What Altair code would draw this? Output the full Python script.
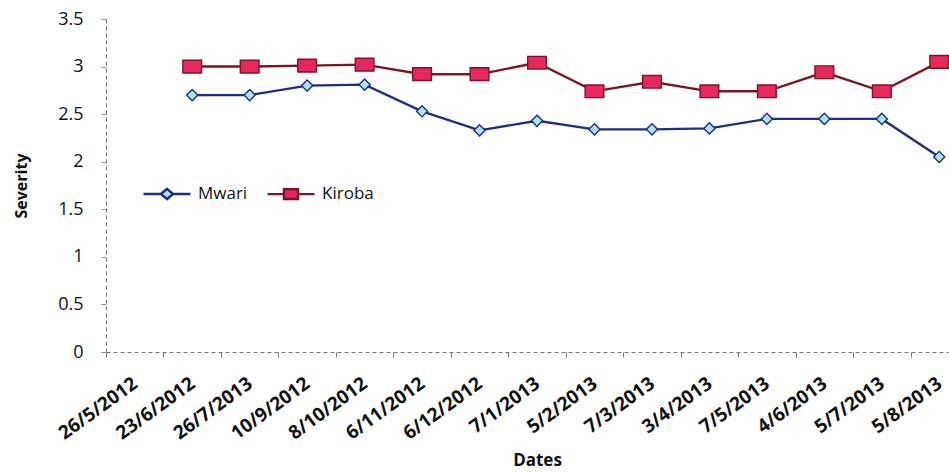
import altair as alt
import pandas as pd

# Survey dates (category order as recorded) and mean severity scores per site
dates = ["26/5/2012", "23/6/2012", "26/7/2013", "10/9/2012", "8/10/2012",
         "6/11/2012", "6/12/2012", "7/1/2013", "5/2/2013", "7/3/2013",
         "3/4/2013", "7/5/2013", "4/6/2013", "5/7/2013", "5/8/2013"]
mwari = [None, 2.70, 2.70, 2.80, 2.81, 2.53, 2.33, 2.43, 2.34, 2.34,
         2.35, 2.45, 2.45, 2.45, 2.05]
kiroba = [None, 3.00, 3.00, 3.01, 3.02, 2.92, 2.92, 3.04, 2.74, 2.84,
          2.74, 2.74, 2.94, 2.74, 3.05]

series_names = ["Mwari", "Kiroba"]
line_colors = ["#1f2d86", "#7d1428"]
marker_fills = ["#a8e4f2", "#e8285c"]
y_ticks = [0, 0.5, 1, 1.5, 2, 2.5, 3, 3.5]

# marker outlines (unit box -1..1)
rect_marker = "M-1,-0.68L1,-0.68L1,0.68L-1,0.68Z"
# legend glyphs: a short line with the series marker in its middle
legend_glyphs = [
    "M-1,0L-0.26,0M0.26,0L1,0M0,-0.22L0.26,0L0,0.22L-0.26,0Z",
    "M-1,0L-0.3,0M0.3,0L1,0M-0.3,-0.21L0.3,-0.21L0.3,0.21L-0.3,0.21Z",
]

FONT = "Open Sans"

rows = []
for name, vals in zip(series_names, [mwari, kiroba]):
    for d, v in zip(dates, vals):
        if v is not None:
            rows.append({"Date": d, "Severity": v, "Series": name})
df = pd.DataFrame(rows)

legend = alt.Legend(
    title=None,
    orient="none",
    direction="horizontal",
    legendX=36,
    legendY=150,
    symbolSize=2209,
    symbolStrokeWidth=2.4,
    symbolOpacity=1,
    labelFont=FONT,
    labelFontSize=17,
    labelColor="#111111",
    labelOffset=6,
    columnPadding=14,
)

x_enc = alt.X(
    "Date:N",
    sort=dates,
    scale=alt.Scale(domain=dates, range=[0, 862], paddingInner=0, paddingOuter=0),
    axis=alt.Axis(
        title="Dates",
        titleFont=FONT,
        titleFontSize=17,
        titleFontWeight="bold",
        titleColor="#111111",
        titlePadding=9,
        labelFont=FONT,
        labelFontSize=19,
        labelFontWeight="bold",
        labelColor="#111111",
        labelAngle=-36,
        labelAlign="right",
        labelBaseline="middle",
        labelPadding=24,
        tickBand="extent",
        tickSize=5,
        tickColor="#777777",
        domainColor="#777777",
        domainDash=[4, 3],
        labelOverlap=False,
        grid=False,
    ),
)

y_enc = alt.Y(
    "Severity:Q",
    scale=alt.Scale(domain=[0, 3.5], nice=False),
    axis=alt.Axis(
        title="Severity",
        values=y_ticks,
        format=".1~f",
        titleFont=FONT,
        titleFontSize=16,
        titleFontWeight="bold",
        titleColor="#111111",
        titlePadding=28,
        labelFont=FONT,
        labelFontSize=18,
        labelColor="#111111",
        labelPadding=18,
        tickSize=5,
        tickColor="#999999",
        domainColor="#777777",
        domainDash=[4, 3],
        grid=False,
    ),
)

stroke_scale = alt.Scale(domain=series_names, range=line_colors)
fill_scale = alt.Scale(domain=series_names, range=marker_fills)

lines = alt.Chart(df).mark_line(strokeWidth=2.4).encode(
    x=x_enc,
    y=y_enc,
    stroke=alt.Stroke("Series:N", scale=stroke_scale, legend=legend),
    detail="Series:N",
)

mwari_pts = (
    alt.Chart(df)
    .transform_filter(alt.datum.Series == "Mwari")
    .mark_point(shape="diamond", size=125, filled=True, fill=marker_fills[0],
                stroke=line_colors[0], strokeWidth=1.4, opacity=1)
    .encode(x=x_enc, y=y_enc)
)

kiroba_pts = (
    alt.Chart(df)
    .transform_filter(alt.datum.Series == "Kiroba")
    .mark_point(shape=rect_marker, size=350, filled=True, fill=marker_fills[1],
                stroke=line_colors[1], strokeWidth=1.4, opacity=1)
    .encode(x=x_enc, y=y_enc)
)

# legend-only layer: no rows pass the filter, the scales carry the entries
key = alt.Chart(df).transform_filter("false").mark_point(filled=False, opacity=1).encode(
    x=x_enc,
    y=y_enc,
    stroke=alt.Stroke("Series:N", scale=stroke_scale, legend=legend),
    fill=alt.Fill("Series:N", scale=fill_scale, legend=legend),
    shape=alt.Shape("Series:N", scale=alt.Scale(domain=series_names, range=legend_glyphs), legend=legend),
)

chart = (
    alt.layer(lines, mwari_pts, kiroba_pts, key)
    .properties(
        width=843,
        height=333,
        autosize=alt.AutoSizeParams(type="none"),
        padding={"left": 106, "top": 19, "right": 0, "bottom": 120},
        background="white",
    )
    .configure_view(stroke=None)
)

chart.save("out.html", embed_options={"renderer": "svg", "actions": False})
